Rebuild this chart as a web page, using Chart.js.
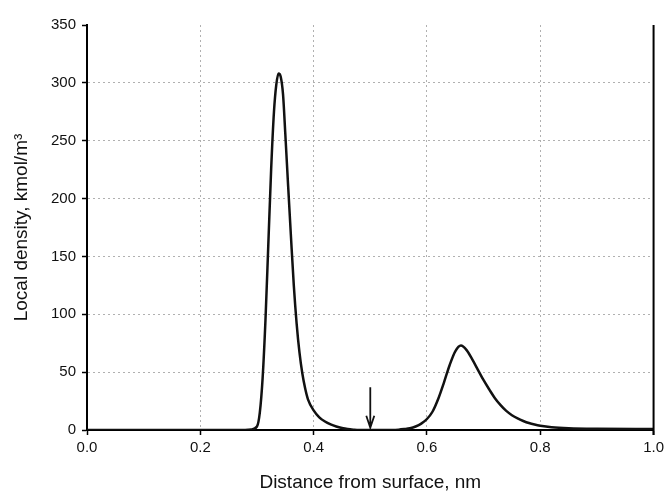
<!DOCTYPE html>
<html>
<head>
<meta charset="utf-8">
<script src="https://cdn.jsdelivr.net/npm/chart.js@4"></script>
<style>
  html, body { margin: 0; padding: 0; background: #fff; }
  #wrap { width: 668px; height: 494px; }
</style>
</head>
<body>
<div id="wrap"><canvas id="c" width="668" height="494"></canvas></div>
<script>
// Distance from surface, nm
const distance = [
  0.00, 0.10, 0.20, 0.27, 0.29, 0.30, 0.305, 0.31, 0.315, 0.32, 0.325, 0.33, 0.334, 0.338,
  0.342, 0.346, 0.35, 0.355, 0.36, 0.365, 0.37, 0.375, 0.38, 0.385, 0.39, 0.40, 0.41, 0.42,
  0.43, 0.44, 0.45, 0.46, 0.47, 0.48, 0.52, 0.55, 0.56, 0.57, 0.58, 0.59, 0.60, 0.61,
  0.62, 0.63, 0.64, 0.65, 0.66, 0.67, 0.68, 0.69, 0.70, 0.71, 0.72, 0.73, 0.74, 0.75,
  0.76, 0.77, 0.78, 0.79, 0.80, 0.82, 0.85, 0.90, 1.00
];
// Local density, kmol/m3
const density = [
  0, 0, 0, 0, 0.5, 3, 15, 45, 95, 160, 225, 275, 298, 308,
  305, 290, 256, 211, 167, 125, 92, 67, 49, 36, 26.5, 17, 11, 7.3,
  4.8, 3, 1.7, 0.8, 0.3, 0, 0, 0.3, 0.8, 1.5, 3, 5.5, 9.5, 16,
  27, 41, 56, 68, 73, 69, 61, 52, 43, 35, 27.5, 21.5, 16.5, 12.8,
  10, 7.8, 6, 4.7, 3.7, 2.4, 1.5, 1, 0.8
];
const xTicks = [0.0, 0.2, 0.4, 0.6, 0.8, 1.0];
const yTicks = [0, 50, 100, 150, 200, 250, 300, 350];
// Arrow marking 0.5 nm
const arrowX = [0.5];
const arrowFromTo = [37, 2];

const FONT = "'Liberation Sans', Arial, sans-serif";
const GRID = '#b0b0b0';

const extras = {
  id: 'extras',
  afterDatasetsDraw(chart) {
    const {ctx, chartArea, scales} = chart;
    ctx.save();
    // right border
    ctx.strokeStyle = '#000';
    ctx.lineWidth = 2;
    ctx.beginPath();
    ctx.moveTo(chartArea.right, chartArea.top);
    ctx.lineTo(chartArea.right, chartArea.bottom + 5);
    ctx.stroke();
    // arrow
    const x = scales.x.getPixelForValue(arrowX[0]);
    const y1 = scales.y.getPixelForValue(arrowFromTo[0]);
    const y2 = scales.y.getPixelForValue(arrowFromTo[1]);
    ctx.strokeStyle = '#111';
    ctx.lineWidth = 1.8;
    ctx.beginPath();
    ctx.moveTo(x, y1);
    ctx.lineTo(x, y2);
    ctx.moveTo(x - 4, y2 - 12);
    ctx.lineTo(x, y2);
    ctx.lineTo(x + 4, y2 - 12);
    ctx.stroke();
    ctx.restore();
  }
};

new Chart(document.getElementById('c'), {
  type: 'line',
  data: {
    datasets: [{
      data: distance.map((d, i) => ({x: d, y: density[i]})),
      borderColor: '#111',
      borderWidth: 2.5,
      pointRadius: 0,
      fill: false,
      cubicInterpolationMode: 'monotone'
    }]
  },
  options: {
    responsive: false,
    animation: false,
    layout: { padding: { top: 25, right: 13, left: 0, bottom: 0 } },
    plugins: { legend: { display: false }, tooltip: { enabled: false } },
    scales: {
      x: {
        type: 'linear',
        min: 0, max: 1,
        afterBuildTicks: s => { s.ticks = xTicks.map(v => ({value: v})); },
        afterFit: s => { s.height = 64; },
        ticks: {
          callback: v => Number(v).toFixed(1),
          font: { family: FONT, size: 15 },
          color: '#111',
          padding: 4,
          maxRotation: 0
        },
        grid: {
          color: GRID,
          lineWidth: 1,
          tickLength: 5,
          tickColor: '#000',
          tickWidth: 1.5,
          tickBorderDash: []
        },
        border: { color: '#000', width: 2, dash: [2, 3] },
        title: {
          display: true,
          text: 'Distance from surface, nm',
          font: { family: FONT, size: 19 },
          color: '#111',
          padding: { top: 0, bottom: 0 }
        }
      },
      y: {
        min: 0, max: 350,
        afterBuildTicks: s => { s.ticks = yTicks.map(v => ({value: v})); },
        afterFit: s => { s.width = 87; },
        ticks: {
          font: { family: FONT, size: 15 },
          color: '#111',
          padding: 6
        },
        grid: {
          color: c => (c.tick && c.tick.value === 350) ? 'rgba(0,0,0,0)' : GRID,
          lineWidth: 1,
          tickLength: 5,
          tickColor: '#000',
          tickWidth: 1.5,
          tickBorderDash: []
        },
        border: { color: '#000', width: 2, dash: [2, 3] },
        title: {
          display: true,
          text: 'Local density, kmol/m\u00B3',
          font: { family: FONT, size: 19 },
          color: '#111',
          padding: { top: 10, bottom: 0 }
        }
      }
    }
  },
  plugins: [extras]
});
</script>
</body>
</html>
